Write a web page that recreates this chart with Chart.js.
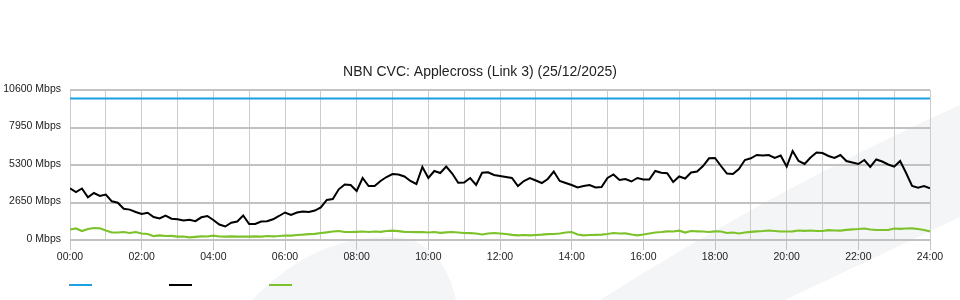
<!DOCTYPE html>
<html>
<head>
<meta charset="utf-8">
<script src="https://cdn.jsdelivr.net/npm/chart.js@4/dist/chart.umd.min.js"></script>
<style>
html,body{margin:0;padding:0;background:#fff;}
#wrap{width:960px;height:300px;position:relative;}
</style>
</head>
<body>
<div id="wrap"><canvas id="c" width="960" height="300"></canvas></div>
<script>
// ---- data ----
const chartTitle = 'NBN CVC: Applecross (Link 3) (25/12/2025)';
const stepMinutes = 10; // one sample every 10 minutes, 00:00 .. 24:00
const xTickLabels = ['00:00','02:00','04:00','06:00','08:00','10:00','12:00','14:00','16:00','18:00','20:00','22:00','24:00'];
const yTickLabels = ['0 Mbps','2650 Mbps','5300 Mbps','7950 Mbps','10600 Mbps'];
const yMax = 10600;
const yStep = 2650;

const capacityTimes = [0, 1440];
const capacityValues = [10000, 10000];

const trafficValues = [
  3653,3392,3640,3018,3321,3109,
  3215,2735,2636,2212,2148,1979,
  1837,1929,1625,1519,1731,1505,
  1463,1378,1427,1329,1604,1696,
  1413,1095,954,1223,1307,1731,
  1131,1131,1307,1321,1463,1696,
  1943,1767,1943,2014,1979,2078,
  2297,2827,2897,3583,3922,3887,
  3463,4381,3816,3816,4169,4452,
  4664,4629,4487,4169,3957,5159,
  4381,4876,4735,5194,4699,4049,
  4063,4381,3887,4756,4784,4593,
  4523,4452,4381,3816,4169,4381,
  4205,4028,4311,4840,4169,4028,
  3887,3710,3816,3887,3710,3745,
  4381,4629,4240,4311,4134,4381,
  4275,4275,4876,4749,4714,4099,
  4487,4346,4770,4840,5229,5773,
  5795,5229,4699,4664,5017,5653,
  5773,6007,5971,6007,5795,5971,
  5194,6289,5583,5371,5830,6183,
  6148,5936,5795,6007,5583,5477,
  5371,5653,5159,5689,5547,5335,
  5180,5583,4735,3816,3696,3816,
  3660
];

const upstreamValues = [
  742,813,636,777,848,827,
  671,530,530,565,495,565,
  459,424,269,332,283,297,
  233,247,191,226,261,247,
  304,247,233,261,233,247,
  233,261,233,283,261,283,
  318,304,353,375,410,438,
  495,544,601,636,565,565,
  579,601,565,601,579,636,
  657,622,579,565,551,565,
  530,565,509,544,565,530,
  495,481,459,389,459,495,
  459,424,367,332,353,332,
  353,375,410,424,459,530,
  565,389,332,353,367,382,
  424,495,459,473,389,332,
  389,459,530,565,615,601,
  657,530,636,615,601,565,
  615,601,495,530,459,530,
  579,615,636,671,636,601,
  601,615,671,650,671,636,
  636,693,671,657,721,756,
  777,813,742,707,707,707,
  813,791,813,827,777,707,
  601
];

const seriesColors = ['#1ba1e2', '#000000', '#7dc22b'];

// ---- build ----
const toPoints = (vals) => vals.map((v, i) => ({x: i * stepMinutes, y: v}));
const capPoints = capacityValues.map((v, i) => ({x: capacityTimes[i], y: v}));

const backgroundPlugin = {
  id: 'bg',
  beforeDraw(chart) {
    const ctx = chart.ctx;
    ctx.save();
    ctx.fillStyle = '#ffffff';
    ctx.fillRect(0, 0, chart.width, chart.height);
    ctx.fillStyle = '#f4f5f7';
    ctx.beginPath();
    ctx.moveTo(600, 300);
    ctx.quadraticCurveTo(780, 186, 960, 105);
    ctx.lineTo(960, 217);
    ctx.lineTo(785, 300);
    ctx.closePath();
    ctx.fill();
    ctx.beginPath();
    ctx.moveTo(252, 300);
    ctx.bezierCurveTo(290, 262, 330, 237, 390, 237);
    ctx.bezierCurveTo(430, 237, 448, 265, 456, 300);
    ctx.closePath();
    ctx.fill();
    ctx.restore();
  }
};

const legendPlugin = {
  id: 'lineLegend',
  afterDraw(chart) {
    const ctx = chart.ctx;
    const left = chart.chartArea.left;
    ctx.save();
    chart.data.datasets.forEach((ds, i) => {
      ctx.fillStyle = ds.borderColor;
      ctx.fillRect(left - 1 + i * 100, 284, 23, 2);
    });
    ctx.restore();
  }
};

const fontFamily = "'Liberation Sans', Arial, Helvetica, sans-serif";

new Chart(document.getElementById('c'), {
  type: 'line',
  data: {
    datasets: [
      {label: '', data: capPoints, borderColor: seriesColors[0], borderWidth: 2, pointRadius: 0, tension: 0, fill: false},
      {label: '', data: toPoints(trafficValues), borderColor: seriesColors[1], borderWidth: 2, pointRadius: 0, tension: 0, fill: false},
      {label: '', data: toPoints(upstreamValues), borderColor: seriesColors[2], borderWidth: 2.2, pointRadius: 0, tension: 0, fill: false}
    ]
  },
  options: {
    responsive: false,
    animation: false,
    devicePixelRatio: 1,
    layout: {padding: {top: 64, right: 0, bottom: 0, left: 0}},
    plugins: {
      legend: {display: false},
      tooltip: {enabled: false},
      title: {
        display: true,
        text: chartTitle,
        color: '#222',
        font: {family: fontFamily, size: 14, weight: 'normal'},
        padding: {top: 0, bottom: 9.2}
      }
    },
    scales: {
      x: {
        type: 'linear',
        min: 0,
        max: 1440,
        afterFit(scale) { scale.height = 60; },
        border: {display: false},
        grid: {
          color: '#cccccc',
          lineWidth: 1,
          drawTicks: true,
          tickLength: 10,
          tickColor: (c) => (c.tick && c.tick.value % 120 === 0) ? '#c4c4c4' : 'rgba(0,0,0,0)'
        },
        ticks: {
          stepSize: 60,
          autoSkip: false,
          maxRotation: 0,
          padding: 1,
          color: '#222',
          font: {family: fontFamily, size: 10.5},
          callback: (v) => (v % 120 === 0) ? xTickLabels[v / 120] : ''
        }
      },
      y: {
        min: 0,
        max: yMax,
        afterFit(scale) { scale.width = 70; },
        border: {display: false},
        grid: {color: '#c2c2c2', lineWidth: 2, drawTicks: false},
        ticks: {
          stepSize: yStep,
          padding: 9,
          labelOffset: -1,
          color: '#222',
          font: {family: fontFamily, size: 10.5},
          callback: (v) => yTickLabels[Math.round(v / yStep)]
        }
      },
      yRightSpace: {
        position: 'right',
        min: 0,
        max: yMax,
        afterFit(scale) { scale.width = 30; },
        border: {display: false},
        grid: {display: false, drawTicks: false},
        ticks: {display: false}
      }
    }
  },
  plugins: [backgroundPlugin, legendPlugin]
});
</script>
</body>
</html>
